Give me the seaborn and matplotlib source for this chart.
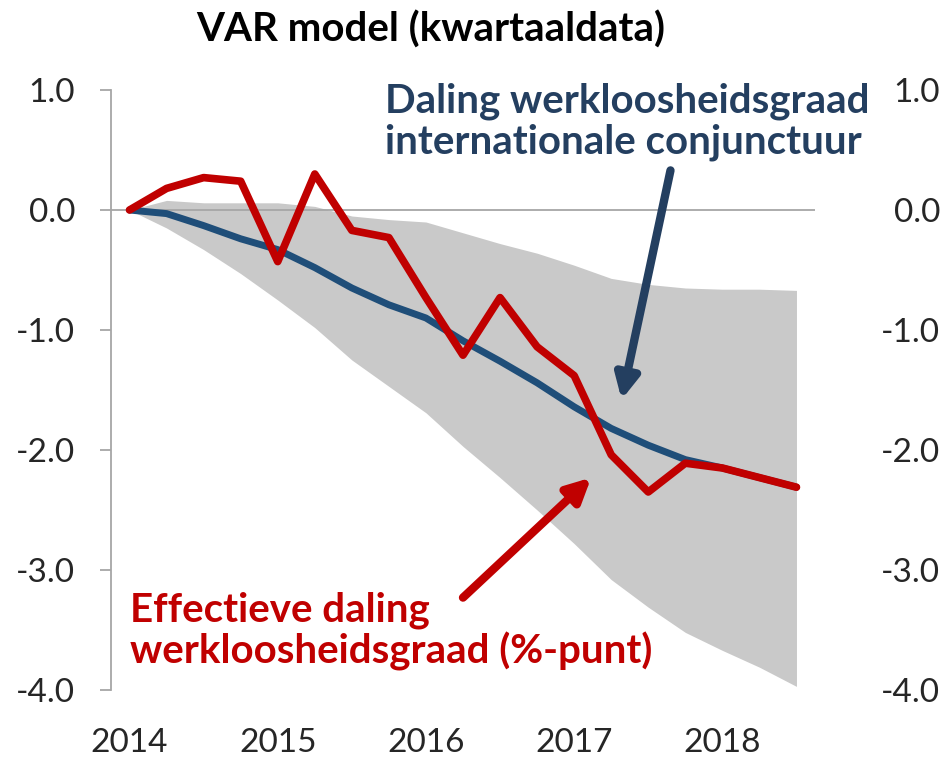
import numpy as np
import pandas as pd
import matplotlib
matplotlib.use('Agg')
import matplotlib.pyplot as plt
import seaborn as sns

# Kwartaaldata 2014Q1 - 2018Q3
tijd = 2014 + np.arange(19) / 4
effectief = [0.0, 0.18, 0.27, 0.24, -0.43, 0.30, -0.17, -0.23, -0.73, -1.21,
             -0.73, -1.14, -1.38, -2.04, -2.35, -2.11, -2.15, -2.23, -2.31]
conjunctuur = [0.0, -0.03, -0.13, -0.24, -0.33, -0.48, -0.65, -0.79, -0.90, -1.09,
               -1.26, -1.44, -1.64, -1.82, -1.96, -2.08, -2.15, -2.23, -2.31]
band_boven = [0.0, 0.08, 0.06, 0.06, 0.06, 0.03, -0.05, -0.08, -0.10, -0.19,
              -0.28, -0.36, -0.46, -0.57, -0.62, -0.65, -0.66, -0.66, -0.67]
band_onder = [0.0, -0.15, -0.33, -0.53, -0.75, -0.98, -1.25, -1.47, -1.69, -1.97,
              -2.23, -2.50, -2.78, -3.08, -3.31, -3.52, -3.67, -3.81, -3.97]
jaren = [2014, 2015, 2016, 2017, 2018]
y_ticks = [1.0, 0.0, -1.0, -2.0, -3.0, -4.0]

df = pd.DataFrame({'tijd': tijd, 'effectief': effectief, 'conjunctuur': conjunctuur,
                   'boven': band_boven, 'onder': band_onder})

sns.set_style('white')
plt.rcParams['font.family'] = ['Lato', 'DejaVu Sans']

RED = '#C00000'
BLUE = '#1F4E79'
NAVY = '#243F60'
GREY = '#A6A6A6'

fig = plt.figure(figsize=(9.47, 7.59), dpi=100)
ax = fig.add_axes([111 / 947, 1 - 690 / 759, (815 - 111) / 947, 600 / 759])

ax.fill_between(df['tijd'], df['onder'], df['boven'], color='#C9C9C9', lw=0, zorder=1)
ax.axhline(0, color=GREY, lw=1.3, zorder=2)
sns.lineplot(data=df, x='tijd', y='conjunctuur', color=BLUE, lw=5, ax=ax, zorder=3)
sns.lineplot(data=df, x='tijd', y='effectief', color=RED, lw=5.5, ax=ax, zorder=4)

ax.set_xlim(2014 - 0.125, 2018.625)
ax.set_ylim(-4, 1)
ax.set_xticks(jaren)
ax.set_xticklabels([str(j) for j in jaren])
ax.set_yticks(y_ticks)
ax.set_yticklabels([f'{v:.1f}' for v in y_ticks])
ax.set_xlabel('')
ax.set_ylabel('')
for s in ['top', 'right', 'bottom']:
    ax.spines[s].set_visible(False)
ax.spines['left'].set_color(GREY)
ax.spines['left'].set_linewidth(1.3)
ax.tick_params(axis='y', left=True, length=8, width=1.3, color=GREY, pad=18, labelsize=24)
ax.tick_params(axis='x', bottom=False, pad=24, labelsize=24)

ax2 = ax.twinx()
ax2.set_ylim(-4, 1)
ax2.set_yticks(y_ticks)
ax2.set_yticklabels([f'{v:.1f}' for v in y_ticks])
for s in ax2.spines.values():
    s.set_visible(False)
ax2.tick_params(axis='y', right=False, length=0, pad=90, labelsize=24)
for lab in ax2.get_yticklabels():
    lab.set_horizontalalignment('right')

fig.text(431 / 947, 1 - 30 / 759, 'VAR model (kwartaaldata)', ha='center', va='center',
         fontsize=29, fontweight='bold', color='black')

ax.annotate('', xy=(2017.32, -1.58), xytext=(2017.65, 0.33),
            arrowprops=dict(arrowstyle='-|>', color=NAVY, lw=6, mutation_scale=35,
                            shrinkA=0, shrinkB=0), zorder=5)
ax.annotate('', xy=(2017.115, -2.23), xytext=(2016.25, -3.23),
            arrowprops=dict(arrowstyle='-|>', color=RED, lw=6, mutation_scale=35,
                            shrinkA=0, shrinkB=0), zorder=5)

fig.text(385 / 947, 1 - 122 / 759, 'Daling werkloosheidsgraad\ninternationale conjunctuur',
         ha='left', va='center', fontsize=29, fontweight='bold', color=NAVY, linespacing=1.1)
fig.text(130 / 947, 1 - 631 / 759, 'Effectieve daling\nwerkloosheidsgraad (%-punt)',
         ha='left', va='center', fontsize=29, fontweight='bold', color=RED, linespacing=1.1)

fig.savefig('out.png', dpi=100)
